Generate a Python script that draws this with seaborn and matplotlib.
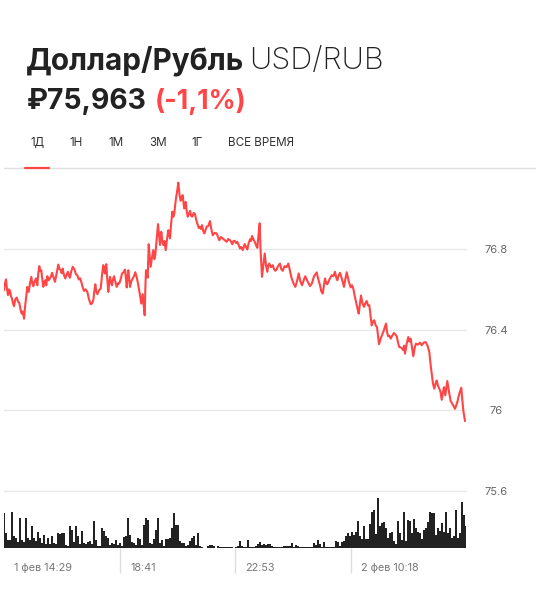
# plot.py - Доллар/Рубль, 1D chart

import numpy as np
import matplotlib
matplotlib.use("Agg")
import matplotlib.pyplot as plt
import seaborn as sns

# position along the time axis and price, same row layout in both lists
price_t = [0, 1, 2, 3, 4, 5, 6, 7, 8, 9,
           10, 11.3, 12.7, 14, 15.3, 16.5, 17.7, 18.8, 20, 21,
           22, 23.3, 24.7, 26, 27.3, 28.3, 29.3, 30.7, 32, 33.3,
           34.3, 35.3, 36.3, 37.3, 38.3, 39.3, 40.3, 41.3, 42.3, 43.3,
           44.7, 46, 47, 48, 49.5, 51, 52.7, 54.3, 55.5, 56.7,
           57.7, 58.7, 60, 61.3, 62.7, 64, 65, 66, 67.3, 68.7,
           70.3, 72, 73.3, 74.7, 76, 77.3, 78.7, 80, 81.7, 83.3,
           85, 86.7, 88, 89.3, 90.3, 91.3, 92.3, 93.3, 95, 96.7,
           98, 99.3, 100.2, 101, 101.7, 102.3, 103.3, 104.3, 105.2, 106,
           107, 108, 109, 110, 111.3, 112.7, 114, 115.3, 116.7, 118,
           119.5, 121, 122, 122.7, 123.5, 124.3, 125.2, 126, 127.3, 128.7,
           130, 131.3, 132.7, 134, 135, 136, 137.3, 138.7, 139.7, 140.7,
           141.3, 142, 143, 143.7, 144.7, 145.7, 146.7, 148, 149.3, 150.3,
           151.3, 152.7, 154, 155, 156, 157.3, 158.3, 159.3, 160.5, 161.7,
           163, 164.3, 165.2, 166, 167.2, 168.3, 169.3, 170.3, 171.2, 172,
           173.2, 174.3, 175.5, 176.7, 177.7, 178.7, 179.5, 180.3, 181, 181.7,
           182.7, 183.7, 185, 186, 187.2, 188.3, 189.7, 191, 192.2, 193.3,
           194.7, 196, 197, 198, 199.2, 200.3, 201.5, 202.7, 204.3, 206,
           207.3, 208.7, 210.7, 212.7, 214, 215.3, 217, 218.7, 220.7, 222.7,
           224.3, 226, 227.2, 228.3, 229.5, 230.7, 232, 233.3, 234.7, 236,
           237.3, 238.7, 239.7, 240.7, 242, 243.3, 244.7, 246, 247, 248,
           249.3, 250.7, 252, 253.3, 254.5, 255.7, 256.5, 258, 259.3, 260.7,
           262, 263.3, 264.3, 265.3, 267, 268.7, 270, 271.3, 272.7, 274,
           276, 277.3, 278.7, 280.5, 282.5, 284.3, 286, 287.7, 289.5, 291.3,
           293, 294.7, 296.3, 298, 299.7, 301.3, 303.5, 306, 308, 310,
           312.7, 314.3, 316, 317.3, 318.7, 320, 321, 322.2, 323.3, 325.5,
           327.7, 329.3, 331, 332.2, 333.3, 334.7, 336, 338, 340, 341.3,
           342.7, 344.7, 346.7, 348, 349.3, 351, 352.7, 353.7, 354.7, 356,
           357, 358.5, 360, 361.3, 362.7, 364, 365.3, 366.5, 367.7, 369,
           370.3, 371.7, 373, 374, 375, 377, 379.3, 380.7, 382, 383,
           384, 385.3, 386.7, 388.3, 390, 391.3, 392.7, 394, 395.3, 397.3,
           399.3, 400.2, 401, 402.7, 404.3, 405.5, 406.7, 408, 409.3, 410.7,
           412, 414, 416, 417.7, 419.7, 421.7, 423.5, 425.3, 426.5, 427.7,
           429, 430.3, 431.5, 432.7, 434, 435.3, 436.5, 437.7, 439, 440,
           441.3, 442.3, 443.3, 445, 446.7, 449, 451, 453.3, 455.3, 457.3,
           458.3, 459.3, 460.2, 461]
price = [76.596, 76.63, 76.649, 76.60, 76.571, 76.60, 76.592, 76.565, 76.554, 76.53,
         76.516, 76.55, 76.559, 76.54, 76.532, 76.50, 76.479, 76.49, 76.454, 76.51,
         76.554, 76.612, 76.587, 76.63, 76.662, 76.63, 76.615, 76.64, 76.654, 76.620,
         76.68, 76.715, 76.69, 76.695, 76.65, 76.612, 76.635, 76.645, 76.62, 76.665,
         76.645, 76.654, 76.665, 76.682, 76.66, 76.637, 76.68, 76.723, 76.70, 76.695,
         76.68, 76.703, 76.67, 76.654, 76.675, 76.687, 76.665, 76.658, 76.69, 76.712,
         76.70, 76.675, 76.67, 76.649, 76.655, 76.637, 76.61, 76.592, 76.60, 76.587,
         76.55, 76.526, 76.53, 76.546, 76.59, 76.625, 76.59, 76.576, 76.595, 76.604,
         76.67, 76.720, 76.69, 76.678, 76.71, 76.725, 76.65, 76.587, 76.63, 76.662,
         76.635, 76.620, 76.65, 76.665, 76.64, 76.612, 76.63, 76.629, 76.65, 76.678,
         76.685, 76.698, 76.65, 76.609, 76.66, 76.695, 76.65, 76.612, 76.64, 76.654,
         76.665, 76.685, 76.66, 76.629, 76.60, 76.571, 76.529, 76.576, 76.52, 76.471,
         76.60, 76.695, 76.67, 76.658, 76.824, 76.76, 76.712, 76.76, 76.795, 76.75,
         76.770, 76.85, 76.924, 76.87, 76.820, 76.886, 76.84, 76.820, 76.84, 76.795,
         76.85, 76.894, 76.87, 76.853, 76.93, 76.986, 76.96, 76.977, 77.02, 77.052,
         77.09, 77.130, 77.07, 77.040, 77.06, 77.068, 77.03, 77.002, 77.02, 77.035,
         76.99, 76.961, 76.975, 76.990, 76.965, 76.961, 76.98, 76.974, 76.945, 76.927,
         76.905, 76.911, 76.90, 76.919, 76.89, 76.878, 76.895, 76.911, 76.915, 76.939,
         76.90, 76.869, 76.88, 76.878, 76.86, 76.844, 76.86, 76.853, 76.845, 76.836,
         76.85, 76.844, 76.835, 76.824, 76.84, 76.841, 76.83, 76.836, 76.82, 76.803,
         76.81, 76.795, 76.81, 76.825, 76.81, 76.798, 76.83, 76.848, 76.84, 76.865,
         76.85, 76.836, 76.82, 76.806, 76.87, 76.928, 76.80, 76.662, 76.72, 76.778,
         76.72, 76.687, 76.72, 76.728, 76.71, 76.720, 76.70, 76.692, 76.70, 76.715,
         76.728, 76.70, 76.692, 76.715, 76.71, 76.728, 76.69, 76.654, 76.63, 76.612,
         76.64, 76.679, 76.64, 76.620, 76.645, 76.665, 76.64, 76.616, 76.63, 76.665,
         76.684, 76.65, 76.620, 76.59, 76.579, 76.62, 76.654, 76.63, 76.625, 76.65,
         76.670, 76.665, 76.687, 76.66, 76.645, 76.67, 76.682, 76.65, 76.612, 76.65,
         76.685, 76.64, 76.609, 76.62, 76.604, 76.56, 76.521, 76.50, 76.479, 76.53,
         76.569, 76.53, 76.513, 76.53, 76.542, 76.52, 76.521, 76.47, 76.421, 76.44,
         76.446, 76.42, 76.413, 76.37, 76.327, 76.36, 76.388, 76.41, 76.430, 76.39,
         76.367, 76.37, 76.355, 76.37, 76.383, 76.375, 76.367, 76.335, 76.313, 76.31,
         76.297, 76.32, 76.280, 76.33, 76.363, 76.34, 76.355, 76.31, 76.267, 76.31,
         76.330, 76.325, 76.335, 76.322, 76.335, 76.338, 76.32, 76.289, 76.23, 76.181,
         76.13, 76.106, 76.13, 76.147, 76.12, 76.106, 76.09, 76.051, 76.09, 76.114,
         76.073, 76.11, 76.144, 76.09, 76.044, 76.025, 76.006, 76.039, 76.081, 76.111,
         76.05, 75.998, 75.97, 75.945]

volume = [35, 15, 8, 8, 36, 12, 10, 6, 30, 8, 6, 30, 10, 8, 22, 10, 7, 16, 10, 5,
          13, 4, 10, 4, 12, 5, 4, 15, 14, 15, 15, 3, 2, 22, 18, 6, 22, 12, 4, 17,
          5, 4, 6, 7, 4, 27, 8, 2, 2, 20, 17, 12, 10, 3, 5, 4, 8, 3, 5, 2,
          11, 12, 30, 13, 6, 5, 3, 10, 9, 3, 23, 30, 28, 5, 4, 9, 18, 30, 5, 8,
          2, 9, 9, 10, 20, 35, 23, 23, 7, 5, 5, 2, 3, 7, 10, 12, 3, 15, 2, 1,
          0.5, 0.5, 2, 3, 3, 2, 0.5, 2, 1, 1, 1, 1, 1.5, 1.5, 1, 0.5, 1.5, 2,
          7, 2, 1, 1, 8, 1, 1, 1, 2, 4, 6, 3, 4, 3, 4, 4, 2, 1, 1, 1,
          1, 1.5, 2, 2, 2, 2, 5, 1, 3, 2, 1.5, 1, 1, 1, 1, 1, 1.5, 5, 3, 8,
          4, 1, 6, 1.5, 1.5, 1.5, 1, 1.5, 7, 6, 2, 6, 7, 12, 15, 12, 16, 13, 16, 27,
          12, 9, 22, 9, 9, 24, 36, 38, 14, 50, 22, 25, 26, 20, 10, 15, 16, 7, 4, 27,
          15, 8, 36, 7, 28, 27, 15, 29, 20, 16, 15, 9, 18, 20, 26, 36, 35, 35, 13, 20,
          17, 25, 16, 36, 15, 20, 10, 12, 38, 10, 15, 46, 33, 22]

y_ticks = [76.8, 76.4, 76.0, 75.6]
y_labels = ["76.8", "76.4", "76", "75.6"]
x_ticks = [115.5, 231, 346.5]
x_label_pos = [10, 126, 241, 357]
x_labels = ["1 фев 14:29", "18:41", "22:53", "2 фев 10:18"]
tabs = ["1Д", "1Н", "1М", "3М", "1Г", "ВСЕ ВРЕМЯ"]
tab_x = [30, 69, 108, 149, 191, 228]

W, H = 536, 597
RED = "#ff4545"
DARK = "#222222"
GRID = "#e8e8e8"


def px_rect(left, top, right, bottom):
    return [left / W, 1 - bottom / H, (right - left) / W, (bottom - top) / H]


sns.set_theme(style="white")
plt.rcParams["font.family"] = ["Inter", "DejaVu Sans"]

fig = plt.figure(figsize=(W / 100, H / 100), dpi=100, facecolor="white")

# header
fig.text(26 / W, 1 - 69.5 / H, "Доллар/Рубль", fontsize=21.4, fontweight="bold", color=DARK)
fig.text(249.5 / W, 1 - 69.5 / H, "USD/RUB", fontsize=22, fontweight="light", color=DARK)
fig.text(27 / W, 1 - 109 / H, "₽75,963", fontsize=20.4, fontweight="bold", color=DARK)
fig.text(155 / W, 1 - 109 / H, "(-1,1%)", fontsize=19.2, fontweight="bold", color=RED)
for name, x in zip(tabs, tab_x):
    fig.text(x / W, 1 - 146 / H, name, fontsize=8.4, color="#333333")
fig.add_artist(plt.Line2D([4 / W, 1], [1 - 168 / H] * 2, color="#e0e0e0", lw=1))
fig.add_artist(plt.Line2D([25 / W, 49 / W], [1 - 167.5 / H] * 2, color=RED, lw=1.6))

# price line
ax = fig.add_axes(px_rect(4, 170, 466, 490.5))
sns.lineplot(x=price_t, y=price, color=RED, linewidth=1.5, ax=ax, errorbar=None, estimator=None, sort=False)
ax.set_xlim(0, 462)
ax.set_ylim(75.6, 77.193)
ax.set_yticks(y_ticks)
ax.set_yticklabels(y_labels, ha="center", color="#666666", fontsize=8)
ax.yaxis.tick_right()
ax.tick_params(axis="y", length=0, pad=21.6)
ax.set_xticks([])
ax.set_xlabel("")
ax.set_ylabel("")
ax.grid(axis="y", color=GRID, lw=1)
ax.set_axisbelow(True)
ax.patch.set_alpha(0)
sns.despine(ax=ax, left=True, bottom=True, right=True, top=True)
for gl in ax.get_ygridlines():
    gl.set_clip_on(False)

# volume bars
ax2 = fig.add_axes(px_rect(4, 498, 466, 548))
bar_pos = np.arange(len(volume)) * 2
sns.barplot(x=bar_pos, y=volume, native_scale=True, color=DARK, saturation=1, width=0.95, linewidth=0, ax=ax2)
ax2.set_xlim(0, 462)
ax2.set_ylim(0, 50)
ax2.set_yticks([])
ax2.set_xticks(x_ticks)
ax2.set_xticklabels([])
ax2.tick_params(axis="x", length=18, width=1, color="#dddddd", bottom=True)
ax2.set_xlabel("")
ax2.set_ylabel("")
ax2.patch.set_alpha(0)
sns.despine(ax=ax2, left=True, bottom=True, right=True, top=True)
for t, name in zip(x_label_pos, x_labels):
    ax2.annotate(name, xy=(t, 0), xycoords=("data", "axes fraction"), xytext=(0, -14.5),
                 textcoords="offset points", va="center", ha="left", fontsize=7.8, color="#777777")

fig.savefig("out.png", dpi=100)
